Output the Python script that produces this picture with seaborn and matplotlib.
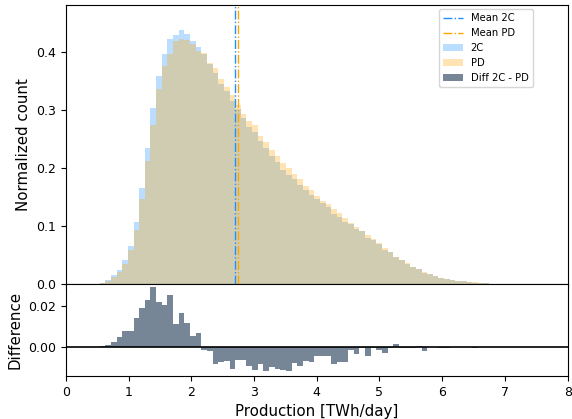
import numpy as np
import pandas
import seaborn as sns
import matplotlib.pyplot as plt

# histogram bins: width 0.09 TWh/day, first drawn bin starts at 6 * 0.09
bin_width = 0.09
first_bin = 6

# normalized counts of PD, one value per bin
pd_density = [
    0.0015, 0.0055, 0.0126, 0.020, 0.034, 0.0585, 0.093, 0.147, 0.212, 0.273,
    0.336, 0.375, 0.396, 0.418, 0.421, 0.419, 0.413, 0.401, 0.397, 0.381,
    0.371, 0.352, 0.339, 0.325, 0.308, 0.293, 0.280, 0.273, 0.255, 0.245,
    0.230, 0.220, 0.208, 0.200, 0.189, 0.180, 0.169, 0.161, 0.151, 0.143,
    0.137, 0.129, 0.123, 0.114, 0.1044, 0.0975, 0.0916, 0.0844, 0.077, 0.070,
    0.0614, 0.0557, 0.0459, 0.0413, 0.0356, 0.0298, 0.0252, 0.0212, 0.0175, 0.014,
    0.011, 0.0088, 0.0072, 0.0058, 0.0046, 0.0036, 0.0028, 0.0021, 0.0015,
]
# difference 2C - PD, per bin
diff_density = [
    0.0005, 0.0007, 0.0021, 0.0047, 0.0075, 0.0075, 0.0138, 0.0187, 0.0226, 0.0291,
    0.0216, 0.0203, 0.0250, 0.0110, 0.0164, 0.0116, 0.0054, 0.0067, -0.0015, -0.0023,
    -0.0085, -0.0075, -0.0070, -0.0109, -0.0067, -0.0067, -0.0096, -0.0114, -0.0086, -0.0117,
    -0.0099, -0.0109, -0.0115, -0.0119, -0.0078, -0.0094, -0.0068, -0.0075, -0.0046, -0.0044,
    -0.0044, -0.0083, -0.0075, -0.0075, -0.0018, -0.0034, -0.0005, -0.0047, -0.0005, -0.0018,
    -0.0030, -0.0005, 0.0011, -0.0006, -0.0006, -0.0006, 0.0003, -0.0020, -0.0003, -0.0003,
    -0.0006, -0.0006, -0.0003, -0.0002, -0.0001, 0.0, -0.0004, 0.0, 0.0,
]
mean_2c = 2.70
mean_pd = 2.74

edges = (first_bin + np.arange(len(pd_density) + 1)) * bin_width
centers = edges[:-1] + bin_width / 2
df = pandas.DataFrame({
    "production": centers,
    "PD": pd_density,
    "diff": diff_density,
})
df["2C"] = df["PD"] + df["diff"]
bins = [float(e) for e in edges]

fig = plt.figure(figsize=(5.72, 4.19), dpi=100)
gs = fig.add_gridspec(2, 1, height_ratios=[279, 92], hspace=0,
                      left=0.115, right=0.9925, top=0.988, bottom=0.1026)
ax = fig.add_subplot(gs[0])
axd = fig.add_subplot(gs[1], sharex=ax)

sns.histplot(data=df, x="production", weights="2C", bins=bins,
             color="dodgerblue", alpha=0.3, linewidth=0, ax=ax)
sns.histplot(data=df, x="production", weights="PD", bins=bins,
             color="orange", alpha=0.3, linewidth=0, ax=ax)
l1 = ax.axvline(mean_2c, color="dodgerblue", ls="-.", lw=1)
l2 = ax.axvline(mean_pd, color="orange", ls="-.", lw=1)

sns.histplot(data=df, x="production", weights="diff", bins=bins,
             color="slategray", alpha=0.95, linewidth=0, ax=axd)
axd.axhline(0, color="black", lw=1.2)

ax.set_xlim(0, 8)
ax.set_ylim(0, 0.48)
ax.set_yticks([0.0, 0.1, 0.2, 0.3, 0.4])
ax.set_ylabel("Normalized count", fontsize=10.8)
ax.set_xlabel("")
ax.tick_params(labelbottom=False, labelsize=9)

axd.set_ylim(-0.0143, 0.0306)
axd.set_yticks([0.0, 0.02])
axd.set_yticklabels(["0.00", "0.02"])
axd.set_xticks(range(9))
axd.set_ylabel("Difference", fontsize=10.8)
axd.set_xlabel("Production [TWh/day]", fontsize=10.8)
axd.tick_params(labelsize=9)

handles = [l1, l2, ax.containers[0], ax.containers[1], axd.containers[0]]
labels = ["Mean 2C", "Mean PD", "2C", "PD", "Diff 2C - PD"]
ax.legend(handles, labels, loc="upper right", bbox_to_anchor=(0.93, 0.985),
          borderaxespad=0, fontsize=7.2)

plt.savefig("out.png", dpi=100)
